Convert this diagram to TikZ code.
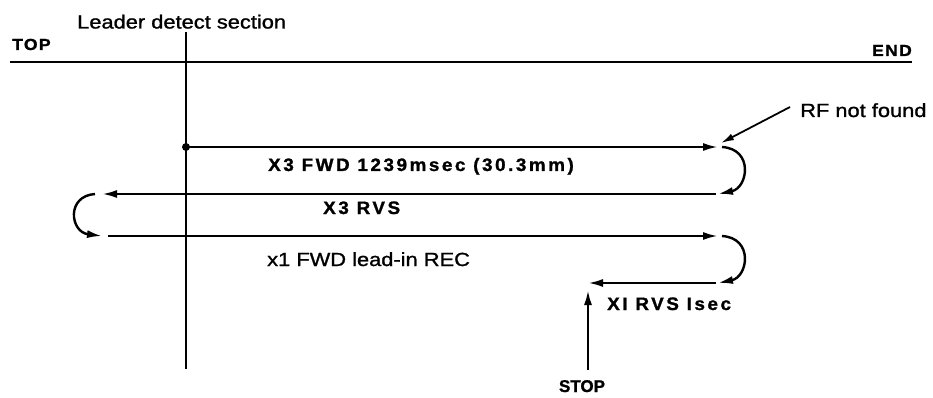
\documentclass[tikz,border=0pt]{standalone}
\usepackage{fontspec}
\usetikzlibrary{arrows.meta}
\newfontfamily\regf[FakeStretch=1.15,FakeBold=1.2]{Liberation Sans}
\newfontfamily\boldf[FakeStretch=1.05,LetterSpace=14,FakeBold=1.2]{Liberation Sans}
\newfontfamily\endf[FakeStretch=1.1,LetterSpace=8,FakeBold=1.2]{Liberation Sans}
\newfontfamily\stopf[FakeBold=1.2]{Liberation Sans}
\begin{document}
\begin{tikzpicture}[x=1pt,y=-1pt,
  arr/.style={line width=2.4pt,-{Latex[length=15pt,width=8pt]}},
  reglab/.style={inner sep=0pt,anchor=base west,font=\regf\fontsize{19}{21}\selectfont},
  boldlab/.style={inner sep=0pt,anchor=base west,font=\boldf\bfseries\fontsize{18}{20}\selectfont},
  endlab/.style={inner sep=0pt,font=\endf\bfseries\fontsize{16}{18}\selectfont},
  stoplab/.style={inner sep=0pt,anchor=base,font=\stopf\bfseries\fontsize{17}{19}\selectfont}
]
\useasboundingbox (0,0) rectangle (933,398);
% axes
\coordinate (tl) at (10,62);
\coordinate (tr) at (912,62);
\coordinate (vt) at (186,32);
\coordinate (vb) at (186,369);
\draw[line width=2.8pt] (tl) -- (tr);
\draw[line width=2pt] (vt) -- (vb);
% labels on top
\node[reglab] (lds) at (77,28.5) {Leader detect section};
\node[endlab,anchor=base west] (top) at (12,50) {TOP};
\node[endlab,anchor=base east] (end) at (912,56) {END};
\node[reglab] (rf) at (800,117) {RF not found};
% path coordinates
\node[circle,fill,inner sep=0pt,minimum size=8pt] (dot) at (186,147) {};
\coordinate (a1e) at (718,147);
\coordinate (c1s) at (722,147);
\coordinate (c1e) at (718,194);
\coordinate (a2s) at (716,194);
\coordinate (a2e) at (102,194);
\coordinate (c2s) at (95,194);
\coordinate (c2e) at (102,236);
\coordinate (a3s) at (108,236);
\coordinate (a3e) at (718,236);
\coordinate (c3s) at (722,236);
\coordinate (c3e) at (718,283);
\coordinate (a4s) at (716,283);
\coordinate (a4e) at (588,283);
\coordinate (stS) at (588,370);
\coordinate (stE) at (588,290);
\coordinate (rfS) at (790,107);
\coordinate (rfE) at (721,143);
% arrows
\draw[arr] (dot.center) -- (a1e);
\draw[arr] (c1s) .. controls (754,149) and (748,188) .. (c1e);
\draw[arr] (a2s) -- (a2e);
\draw[arr] (c2s) .. controls (66,196) and (70,232) .. (c2e);
\draw[arr] (a3s) -- (a3e);
\draw[arr] (c3s) .. controls (754,238) and (748,277) .. (c3e);
\draw[arr] (a4s) -- (a4e);
\draw[arr] (stS) -- (stE);
\draw[line width=1.8pt,-{Latex[length=13pt,width=7pt]}] (rfS) -- (rfE);
% path labels
\node[boldlab] (l1) at (268,171) {X3 FWD 1239msec (30.3mm)};
\node[boldlab] (l2) at (323,214) {X3 RVS};
\node[reglab] (l3) at (267,266) {x1 FWD lead-in REC};
\node[boldlab] (l4) at (607,310) {XI RVS Isec};
\node[stoplab] (stop) at (582,392) {STOP};
\end{tikzpicture}
\end{document}
